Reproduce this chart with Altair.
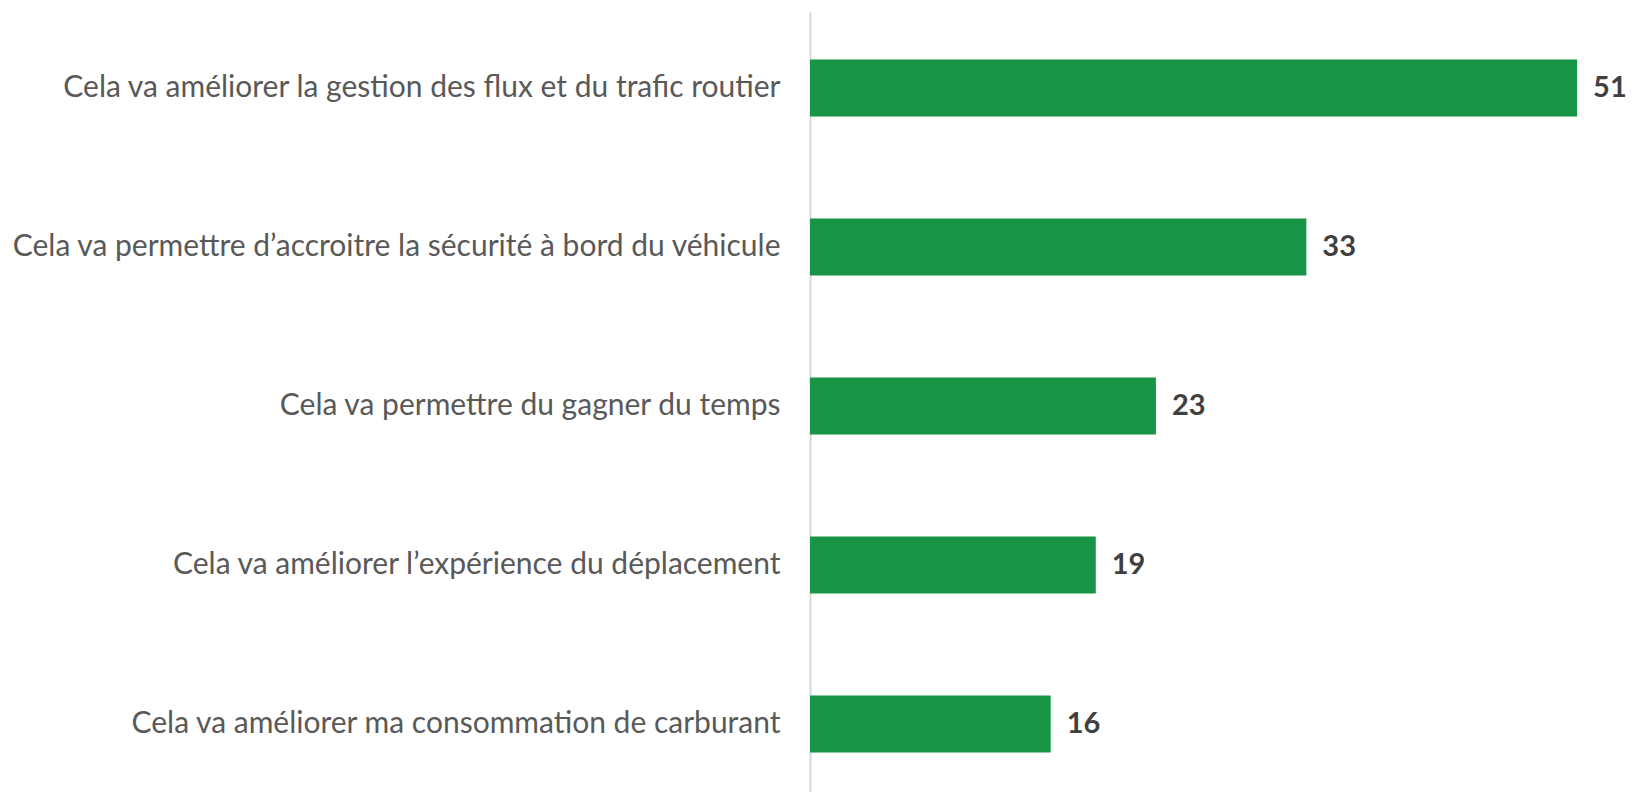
import altair as alt
import pandas as pd

categories = [
    "Cela va améliorer la gestion des flux et du trafic routier",
    "Cela va permettre d\u2019accroitre la sécurité à bord du véhicule",
    "Cela va permettre du gagner du temps",
    "Cela va améliorer l\u2019expérience du déplacement",
    "Cela va améliorer ma consommation de carburant",
]
values = [51, 33, 23, 19, 16]

df = pd.DataFrame({"cat": categories, "val": values})

x = alt.X("val:Q", scale=alt.Scale(domain=[0, 53.52], nice=False, zero=True), axis=None)
y = alt.Y(
    "cat:N",
    sort=categories,
    title=None,
    scale=alt.Scale(paddingInner=0.6415, paddingOuter=0.274, align=0.546),
    axis=alt.Axis(
        domain=True,
        domainColor="#d9d9d9",
        domainWidth=2,
        ticks=False,
        labelFont="Lato",
        labelFontSize=30,
        labelColor="#595959",
        labelPadding=30,
        labelLimit=1000,
        grid=False,
    ),
)

bars = alt.Chart(df).mark_bar(color="#179446").encode(x=x, y=y)
text = alt.Chart(df).mark_text(
    align="left", baseline="middle", dx=16, font="Lato", fontSize=29,
    fontWeight="bold", color="#404040"
).encode(x=x, y=y, text="val:Q")

chart = (bars + text).properties(
    width=805, height=780,
    autosize=alt.AutoSizeParams(type="none"),
    padding={"left": 802, "top": 4, "right": 14, "bottom": 0},
).configure_view(stroke=None)

chart.save("out.html", embed_options={"renderer": "svg", "actions": False})
